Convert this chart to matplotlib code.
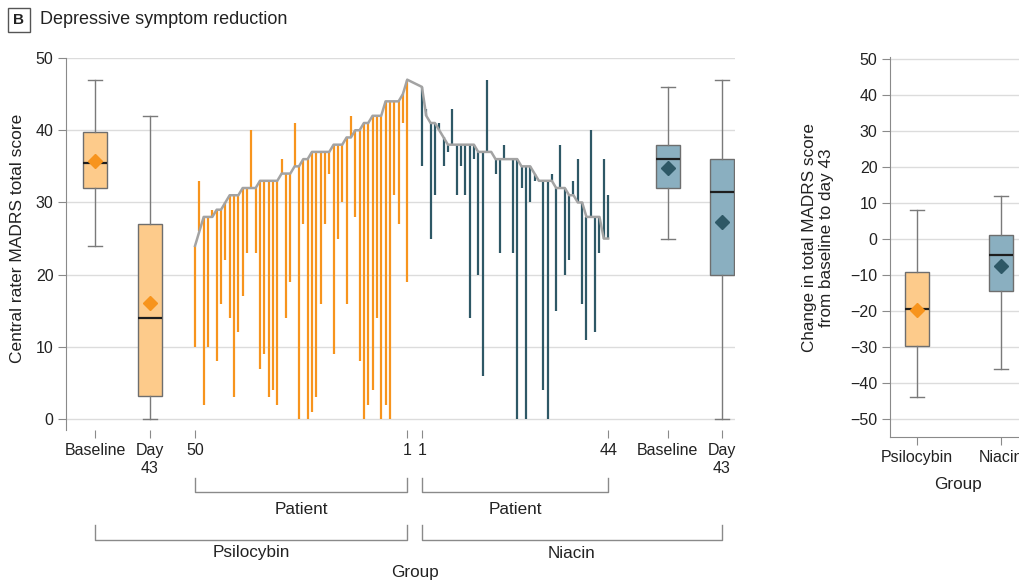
import numpy as np
import matplotlib.pyplot as plt
from matplotlib.transforms import blended_transform_factory

plt.rcParams['font.family'] = ['Liberation Sans', 'DejaVu Sans']

# psilocybin patients, left to right = patient 50 ... patient 1
psi_baseline = [24, 26, 28, 28, 28, 29, 29, 30, 31, 31,
                31, 32, 32, 32, 32, 33, 33, 33, 33, 33,
                34, 34, 34, 35, 35, 36, 36, 37, 37, 37,
                37, 37, 38, 38, 38, 39, 39, 40, 40, 41,
                41, 42, 42, 42, 44, 44, 44, 44, 45, 47]
psi_day43 = [10, 33, 2, 10, 29, 8, 16, 22, 14, 3,
             12, 17, 23, 40, 23, 7, 9, 3, 4, 2,
             36, 14, 19, 41, 0, 27, 0, 1, 3, 16,
             27, 34, 9, 25, 30, 16, 42, 28, 8, 0,
             2, 4, 14, 0, 2, 0, 31, 27, 41, 19]

# niacin patients, left to right = patient 1 ... patient 44
nia_baseline = [46, 42, 41, 41, 40, 39, 38, 38, 38, 38,
                38, 38, 38, 37, 37, 37, 37, 36, 36, 36,
                36, 36, 36, 35, 35, 35, 34, 33, 33, 33,
                33, 32, 32, 32, 31, 31, 30, 30, 28, 28,
                28, 28, 25, 25]
nia_day43 = [35, 43, 25, 31, 41, 35, 37, 43, 31, 35,
             31, 14, 36, 20, 6, 47, 37, 34, 23, 38,
             36, 23, 0, 32, 0, 30, 33, 33, 4, 0,
             34, 15, 38, 20, 22, 33, 36, 16, 11, 40,
             12, 23, 36, 31]

tick_labels = ['Baseline', 'Day\n43', '50', '1', '1', '44', 'Baseline', 'Day\n43']
groups = ['Psilocybin', 'Niacin']

orange = '#F7941D'
orange_light = '#FDCB8B'
teal = '#2E5866'
teal_light = '#8AAFC0'
grid_c = '#DCDCDC'
axis_c = '#8A8A8A'
text_c = '#222222'
fs = 11.5

psi_x = np.arange(len(psi_baseline))
nia_x = 52.4 + np.arange(len(nia_baseline))
box_x = [-23.1, -10.4, 109.2, 121.7]

fig = plt.figure(figsize=(10.2, 5.82), dpi=100)
W, H = 1020, 582


def fx(px):
    return px / W


def fy(py):
    return 1 - py / H


ax = fig.add_axes([fx(66), fy(430), fx(735 - 66), (430 - 58) / H])
ax.set_xlim(-29.8, 124.7)
ax.set_ylim(-1.5, 50)

for v in range(0, 51, 10):
    ax.axhline(v, color=grid_c, lw=1, zorder=0)

ax.vlines(psi_x, psi_baseline, psi_day43, color=orange, lw=1.6, zorder=2)
ax.vlines(nia_x, nia_baseline, nia_day43, color=teal, lw=1.6, zorder=2)
ax.plot(np.concatenate([psi_x, nia_x]), psi_baseline + nia_baseline,
        color='#A3A3A3', lw=1.8, zorder=3)


def boxes(a, data, pos, width, capw, fill, mark):
    a.boxplot(data, positions=pos, widths=width, whis=(0, 100), showmeans=True,
              showfliers=False, patch_artist=True, manage_ticks=False, capwidths=capw,
              boxprops=dict(facecolor=fill, edgecolor='#6E6E6E', lw=1),
              medianprops=dict(color='#1E1E1E', lw=1.6),
              whiskerprops=dict(color='#7A7A7A', lw=1),
              capprops=dict(color='#7A7A7A', lw=1),
              meanprops=dict(marker='D', markerfacecolor=mark, markeredgecolor=mark,
                             markersize=7), zorder=4)


boxes(ax, [psi_baseline, psi_day43], box_x[:2], 5.5, 3.2, orange_light, orange)
boxes(ax, [nia_baseline, nia_day43], box_x[2:], 5.5, 3.2, teal_light, teal)

ax.set_xticks(box_x[:2] + [psi_x[0], psi_x[-1], nia_x[0], nia_x[-1]] + box_x[2:])
ax.set_xticklabels(tick_labels)
ax.set_yticks(range(0, 51, 10))
for s in ['top', 'right', 'bottom']:
    ax.spines[s].set_visible(False)
ax.spines['left'].set_color(axis_c)
ax.tick_params(axis='both', colors=axis_c, labelcolor=text_c, labelsize=fs, length=6)
ax.tick_params(axis='y', pad=3)

# brackets under the main panel
tr = blended_transform_factory(ax.transData, fig.transFigure)


def bracket(x0, x1, ytop, ybot, label, ylab):
    ax.plot([x0, x0, x1, x1], [fy(ytop), fy(ybot), fy(ybot), fy(ytop)],
            color=axis_c, lw=1, transform=tr, clip_on=False)
    ax.text((x0 + x1) / 2, fy(ylab), label, transform=tr, ha='center', va='center',
            fontsize=fs + 0.8, color=text_c)


bracket(psi_x[0], psi_x[-1], 478, 492, 'Patient', 509)
bracket(nia_x[0], nia_x[-1], 478, 492, 'Patient', 509)
bracket(box_x[0], psi_x[-1], 525, 540, groups[0], 553)
bracket(nia_x[0], box_x[3], 525, 540, groups[1], 553)
fig.text(fx(415), fy(572), 'Group', ha='center', va='center', fontsize=fs + 0.8, color=text_c)
fig.text(fx(18), fy(238), 'Central rater MADRS total score', rotation=90,
         ha='center', va='center', fontsize=fs + 1, color=text_c)

# change panel
psi_change = np.array(psi_day43) - np.array(psi_baseline)
nia_change = np.array(nia_day43) - np.array(nia_baseline)

ax2 = fig.add_axes([fx(890), fy(437), fx(144.5), (437 - 57) / H])
ax2.set_xlim(0.68, 2.4)
ax2.set_ylim(-55, 50.5)
for v in range(-50, 51, 10):
    ax2.axhline(v, color=grid_c, lw=1, zorder=0)
boxes(ax2, [psi_change], [1], 0.28, 0.16, orange_light, orange)
boxes(ax2, [nia_change], [2], 0.28, 0.16, teal_light, teal)
ax2.set_xticks([1, 2])
ax2.set_xticklabels(groups)
ax2.set_yticks(range(-50, 51, 10))
for s in ['top', 'right']:
    ax2.spines[s].set_visible(False)
for s in ['left', 'bottom']:
    ax2.spines[s].set_color(axis_c)
ax2.tick_params(axis='both', colors=axis_c, labelcolor=text_c, labelsize=fs, length=6)
ax2.tick_params(axis='y', pad=3)
fig.text(fx(958), fy(485), 'Group', ha='center', va='center', fontsize=fs + 0.8, color=text_c)
fig.text(fx(818), fy(238), 'Change in total MADRS score\nfrom baseline to day 43',
         rotation=90, ha='center', va='center', fontsize=fs + 0.8, color=text_c,
         linespacing=1.1)

# panel title
fig.text(fx(19), fy(20), 'B', ha='center', va='center', fontsize=11, weight='bold',
         color=text_c, bbox=dict(boxstyle='square,pad=0.35', fc='white', ec='#555555', lw=1))
fig.text(fx(40), fy(20), 'Depressive symptom reduction', ha='left', va='center',
         fontsize=13, color=text_c)

fig.savefig('out.png', dpi=100)
